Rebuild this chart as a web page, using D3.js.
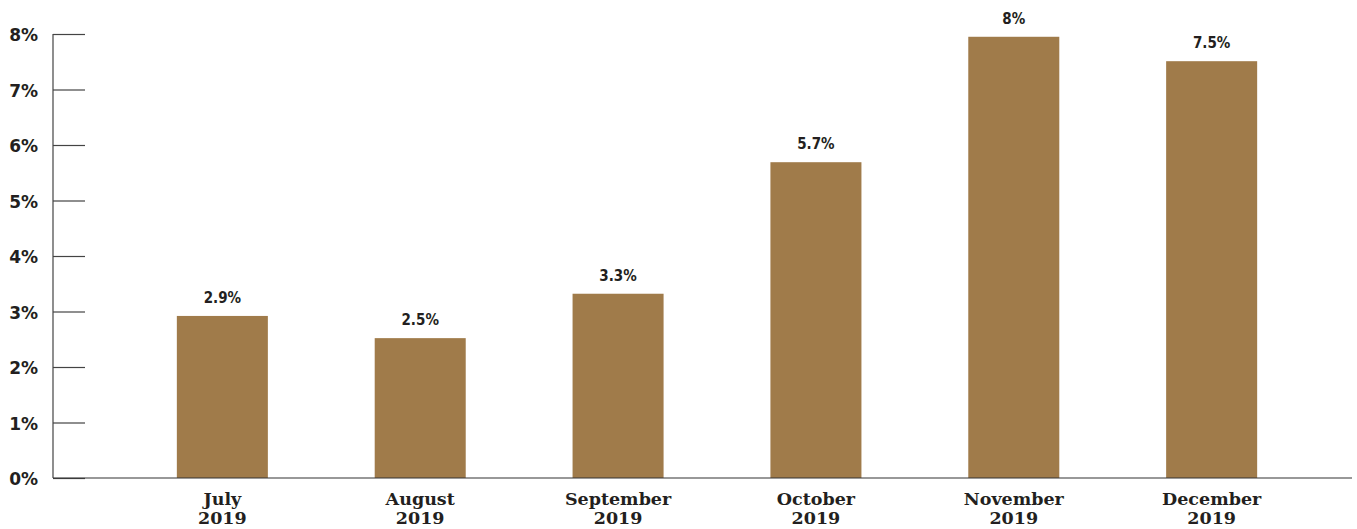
<!DOCTYPE html>
<html>
<head>
<meta charset="utf-8">
<script src="https://cdn.jsdelivr.net/npm/d3@7"></script>
<style>
  html, body { margin: 0; padding: 0; background: #fff; }
  svg { display: block; }
</style>
</head>
<body>
<svg id="chart" width="1357" height="529"></svg>
<script>
const months = ["July", "August", "September", "October", "November", "December"];
const years = ["2019", "2019", "2019", "2019", "2019", "2019"];
const values = [2.92, 2.52, 3.32, 5.69, 7.95, 7.51];
const valueLabels = ["2.9%", "2.5%", "3.3%", "5.7%", "8%", "7.5%"];
const yTicks = [0, 1, 2, 3, 4, 5, 6, 7, 8];

const svg = d3.select("#chart");
const axisX = 53, baseY = 478, topY = 34;

const x = d3.scaleBand()
  .domain(months)
  .range([70, 1364])
  .paddingInner(0.54)
  .paddingOuter(0.54);

const y = d3.scaleLinear().domain([0, 8]).range([baseY, topY]);

const barColor = "#A07B4A";
const ink = "#231f20";

// y axis (ticks inward to the right)
const yAxis = d3.axisRight(y)
  .tickValues(yTicks)
  .tickSize(32)
  .tickFormat("");
const gy = svg.append("g").attr("transform", `translate(${axisX},0)`).call(yAxis);
gy.select(".domain").remove();
gy.selectAll(".tick line").attr("stroke", "#444").attr("stroke-width", 1.2);
svg.append("line")
  .attr("x1", axisX).attr("x2", axisX)
  .attr("y1", y(8)).attr("y2", baseY)
  .attr("stroke", "#444").attr("stroke-width", 1.2);

svg.append("g").selectAll("text")
  .data(yTicks)
  .join("text")
  .attr("x", 38)
  .attr("y", d => y(d) + 1)
  .attr("dy", "0.36em")
  .attr("text-anchor", "end")
  .attr("font-family", "'DejaVu Sans', sans-serif")
  .attr("font-weight", "bold")
  .attr("font-size", 17)
  .attr("fill", ink)
  .text(d => d + "%");

// bars
svg.append("g").selectAll("rect")
  .data(values)
  .join("rect")
  .attr("x", (d, i) => x(months[i]))
  .attr("width", x.bandwidth())
  .attr("y", d => y(d))
  .attr("height", d => baseY - y(d))
  .attr("fill", barColor);

// baseline
svg.append("line")
  .attr("x1", axisX).attr("x2", 1352)
  .attr("y1", baseY).attr("y2", baseY)
  .attr("stroke", "#333").attr("stroke-width", 1.2);

// value labels
svg.append("g").selectAll("text")
  .data(values)
  .join("text")
  .attr("x", (d, i) => x(months[i]) + x.bandwidth() / 2)
  .attr("y", d => y(d) - 13)
  .attr("text-anchor", "middle")
  .attr("font-family", "'DejaVu Sans Condensed', 'DejaVu Sans', sans-serif")
  .attr("font-weight", "bold")
  .attr("font-size", 15)
  .attr("fill", ink)
  .text((d, i) => valueLabels[i]);

// x labels
const xl = svg.append("g").selectAll("text")
  .data(months)
  .join("text")
  .attr("x", d => x(d) + x.bandwidth() / 2)
  .attr("y", 505)
  .attr("text-anchor", "middle")
  .attr("font-family", "'DejaVu Serif', serif")
  .attr("font-weight", "bold")
  .attr("font-size", 17.5)
  .attr("fill", ink);
xl.append("tspan").attr("x", d => x(d) + x.bandwidth() / 2).text(d => d);
xl.append("tspan").attr("x", d => x(d) + x.bandwidth() / 2).attr("dy", 19).text((d, i) => years[i]);
</script>
</body>
</html>
